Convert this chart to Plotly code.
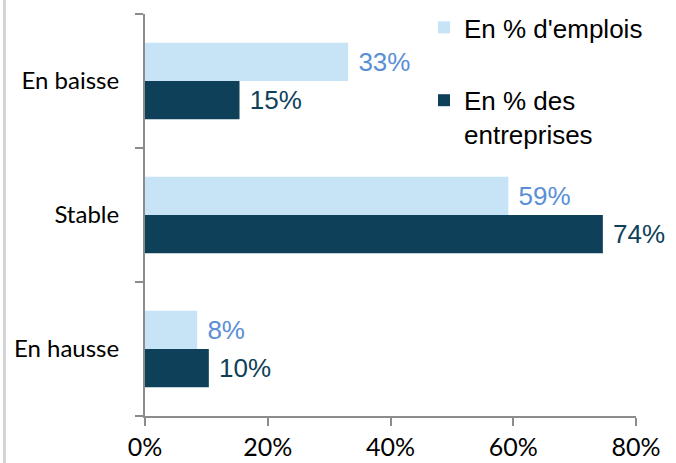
import plotly.graph_objects as go

categories = ["En hausse", "Stable", "En baisse"]
emplois = [8.5, 59.2, 33.1]
entreprises = [10.4, 74.6, 15.4]
emplois_labels = ["8%", "59%", "33%"]
entreprises_labels = ["10%", "74%", "15%"]
series_names = ["En % d'emplois", "En % des<br>entreprises"]
x_ticks = [0, 20, 40, 60, 80]
x_tick_labels = ["0%", "20%", "40%", "60%", "80%"]

W, H = 676, 463
ml, mr, mt, mb = 145, 40, 14, 47
pw = W - ml - mr
ph = H - mt - mb

fig = go.Figure()
fig.add_trace(go.Bar(
    y=categories, x=entreprises, orientation="h", name=series_names[1],
    marker=dict(color="#0E4159", line=dict(width=0)),
    text=[" " + t for t in entreprises_labels], textposition="outside",
    textfont=dict(family="Liberation Sans, Arial", size=26, color="#0E4159"),
    cliponaxis=False, legendrank=2, legendgroup="b",
))
fig.add_trace(go.Bar(
    y=categories, x=emplois, orientation="h", name=series_names[0],
    marker=dict(color="#C6E4F6", line=dict(width=0)),
    text=[" " + t for t in emplois_labels], textposition="outside",
    textfont=dict(family="Liberation Sans, Arial", size=26, color="#5A8FD6"),
    cliponaxis=False, legendrank=1, legendgroup="a",
))

fig.update_layout(
    width=W, height=H,
    margin=dict(l=ml, r=mr, t=mt, b=mb, autoexpand=False),
    paper_bgcolor="white", plot_bgcolor="white",
    barmode="group", bargap=0.43, bargroupgap=0,
    showlegend=True,
    legend=dict(
        x=(424 - ml) / pw, y=1.0 + 10 / ph, xanchor="left", yanchor="top",
        font=dict(family="Liberation Sans, Arial", size=26, color="#000000"),
        bgcolor="rgba(0,0,0,0)", tracegroupgap=36, valign="top",
        traceorder="grouped", itemwidth=30,
    ),
    xaxis=dict(
        range=[0, 80], tickvals=x_ticks, ticktext=x_tick_labels,
        showgrid=False, zeroline=False, automargin=False,
        showline=True, linecolor="#8C8C8C", linewidth=2,
        ticks="outside", ticklen=8, tickwidth=2, tickcolor="#8C8C8C",
        tickfont=dict(family="Lato, Open Sans", size=25, color="#000000"),
    ),
    yaxis=dict(
        type="category", categoryorder="array", categoryarray=categories,
        showgrid=False, zeroline=False, automargin=False,
        showline=True, linecolor="#8C8C8C", linewidth=2,
        ticks="outside", ticklen=8, tickwidth=2, tickcolor="#8C8C8C",
        tickson="boundaries", ticklabelstandoff=19,
        tickfont=dict(family="Lato, Open Sans", size=24, color="#000000"),
    ),
    shapes=[dict(
        type="line", xref="paper", yref="paper",
        x0=(4.5 - ml) / pw, x1=(4.5 - ml) / pw, y0=-0.3, y1=1.2,
        line=dict(color="#D4D4D4", width=3),
    )],
)

fig.write_html(
    "out.html",
    config={"displayModeBar": False},
    post_script="document.body.style.margin='0px';document.body.style.overflow='hidden';",
)
